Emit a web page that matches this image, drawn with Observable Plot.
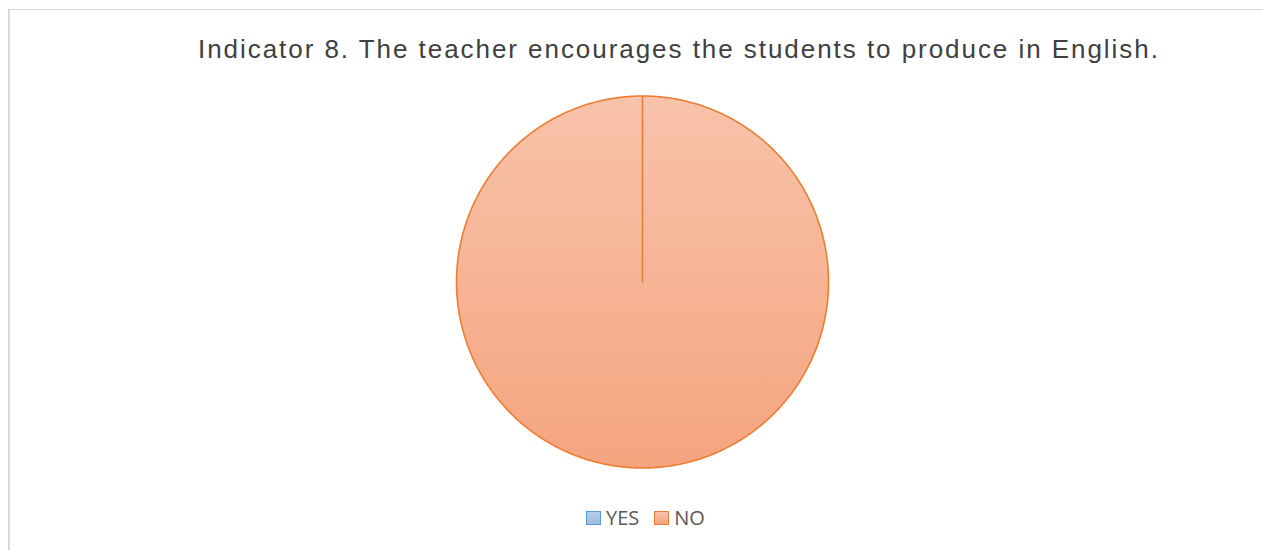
<!DOCTYPE html>
<html>
<head>
<meta charset="utf-8">
<script src="https://cdn.jsdelivr.net/npm/d3@7"></script>
<script src="https://cdn.jsdelivr.net/npm/@observablehq/plot@0.6"></script>
<style>
  html, body { margin: 0; padding: 0; background: #fff; }
  #wrap { position: relative; width: 1263px; height: 550px; overflow: hidden; background: #fff; }
  #frame { position: absolute; left: 8px; top: 9px; width: 1400px; height: 700px;
           border-left: 2px solid #d9d9d9; border-top: 1px solid #d9d9d9; }
  #title { position: absolute; left: 198px; top: 36px; white-space: nowrap;
           font-family: "Liberation Sans", Arial, sans-serif; font-size: 26px; line-height: 26px;
           letter-spacing: 1.95px; color: #404040; }
  #chart { position: absolute; left: 0; top: 80px; }
  #legend { position: absolute; left: 586px; top: 507px; height: 22px; display: flex; align-items: center;
            font-family: "Open Sans", sans-serif; font-size: 20px; line-height: 22px; color: #595959; }
  .sw { width: 15px; height: 14px; box-sizing: border-box; border: 1.5px solid; margin-right: 5px; }
  .item { display: flex; align-items: center; }
  .item:first-child { margin-right: 15px; }
</style>
</head>
<body>
<div id="wrap">
  <div id="frame"></div>
  <div id="title"></div>
  <div id="chart"></div>
  <div id="legend"></div>
</div>
<script>
// ---- data ----
const title = "Indicator 8. The teacher encourages the students to produce in English.";
const categories = ["YES", "NO"];
const values = [0, 100];
// ---- styles ----
const strokeColors = ["#5b9bd5", "#ed7d31"];
const gradTop = ["#b7cdea", "#f8c3aa"];
const gradBottom = ["#9fbce3", "#f5a47f"];

document.getElementById("title").textContent = title;

const W = 1263, H = 420;
const cx = 642, cy = 201.5, R = 186; // pixel geometry of the pie within the svg

const slices = d3.pie().sort(null).value(d => d.value)(
  categories.map((c, i) => ({category: c, value: values[i], i}))
);

// polygon outline of each slice in units of radius (y up), angle 0 at 12 o'clock, clockwise
const pts = [];
for (const s of slices) {
  const cat = s.data.category, i = s.data.i;
  const fillRef = `url(#g${i})`;
  pts.push({category: cat, x: 0, y: 0, fillRef, stroke: strokeColors[i]});
  const n = Math.max(1, Math.ceil((s.endAngle - s.startAngle) / (Math.PI / 360)));
  for (let k = 0; k <= n; k++) {
    const a = s.startAngle + (s.endAngle - s.startAngle) * k / n;
    pts.push({category: cat, x: Math.sin(a), y: Math.cos(a), fillRef, stroke: strokeColors[i]});
  }
  pts.push({category: cat, x: 0, y: 0, fillRef, stroke: strokeColors[i]});
}

const defs = () => {
  const d = d3.create("svg:defs");
  categories.forEach((c, i) => {
    const g = d.append("linearGradient").attr("id", `g${i}`)
      .attr("x1", 0).attr("y1", 0).attr("x2", 0).attr("y2", 1);
    g.append("stop").attr("offset", "0%").attr("stop-color", gradTop[i]);
    g.append("stop").attr("offset", "100%").attr("stop-color", gradBottom[i]);
  });
  return d.node();
};

const chart = Plot.plot({
  width: W, height: H,
  margin: 0,
  x: {domain: [-cx / R, (W - cx) / R], range: [0, W], axis: null},
  y: {domain: [-(H - cy) / R, cy / R], range: [H, 0], axis: null},
  color: {type: "identity"},
  style: {background: "transparent", overflow: "visible"},
  marks: [
    defs,
    Plot.line(pts, {
      x: "x", y: "y", z: "category",
      fill: "fillRef", stroke: "stroke",
      strokeWidth: 1.6, strokeLinejoin: "round", curve: "linear"
    })
  ]
});
document.getElementById("chart").appendChild(chart);

// legend
const leg = document.getElementById("legend");
categories.forEach((c, i) => {
  const item = document.createElement("div");
  item.className = "item";
  const sw = document.createElement("div");
  sw.className = "sw";
  sw.style.borderColor = strokeColors[i];
  sw.style.background = `linear-gradient(${gradTop[i]}, ${gradBottom[i]})`;
  const t = document.createElement("span");
  t.textContent = c;
  item.appendChild(sw); item.appendChild(t);
  leg.appendChild(item);
});
</script>
</body>
</html>
